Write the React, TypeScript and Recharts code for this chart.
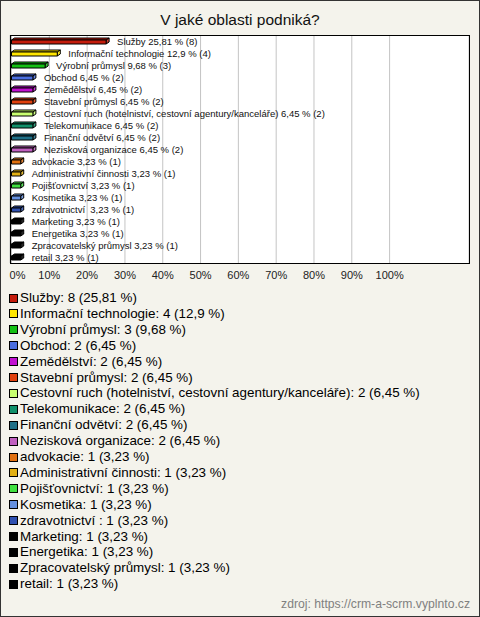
import { BarChart, Bar, XAxis, YAxis, CartesianGrid, LabelList } from "recharts";

const categories = [
  "Služby",
  "Informační technologie",
  "Výrobní průmysl",
  "Obchod",
  "Zemědělství",
  "Stavební průmysl",
  "Cestovní ruch (hotelniství, cestovní agentury/kanceláře)",
  "Telekomunikace",
  "Finanční odvětví",
  "Nezisková organizace",
  "advokacie",
  "Administrativní činnosti",
  "Pojišťovnictví",
  "Kosmetika",
  "zdravotnictví ",
  "Marketing",
  "Energetika",
  "Zpracovatelský průmysl",
  "retail",
];

const counts = [8, 4, 3, 2, 2, 2, 2, 2, 2, 2, 1, 1, 1, 1, 1, 1, 1, 1, 1];

const percents = [
  25.81, 12.9, 9.68, 6.45, 6.45, 6.45, 6.45, 6.45, 6.45, 6.45, 3.23, 3.23,
  3.23, 3.23, 3.23, 3.23, 3.23, 3.23, 3.23,
];

const colors = [
  "#c41c0c",
  "#ffe600",
  "#14c014",
  "#4a6ee0",
  "#c010d0",
  "#e0400e",
  "#c8ff70",
  "#10906a",
  "#1f7088",
  "#c060c0",
  "#e07010",
  "#e2b012",
  "#40e040",
  "#6490e0",
  "#2f50b0",
  "#000000",
  "#000000",
  "#000000",
  "#000000",
];

const xTicks = [0, 10, 20, 30, 40, 50, 60, 70, 80, 90, 100];

const fmt = (v: number) => String(v).replace(".", ",");

const data = categories.map((name, i) => ({
  name,
  pct: percents[i],
  label: `${name} ${fmt(percents[i])} % (${counts[i]})`,
}));

const FONT = "'Liberation Sans', Arial, sans-serif";

function Bar3D(props: any) {
  const { x, y, width, height, index } = props;
  const fill = colors[index];
  const dx = 3;
  const dy = 2;
  const w = Math.max(width - dx, 1);
  const top = y;
  const front = y + dy;
  const bottom = y + height;
  return (
    <g stroke="#000" strokeWidth={1} strokeLinejoin="round">
      <polygon
        points={`${x},${front} ${x + dx},${top} ${x + w + dx},${top} ${x + w},${front}`}
        fill={fill}
      />
      <polygon
        points={`${x + w},${front} ${x + w + dx},${top} ${x + w + dx},${bottom - dy} ${x + w},${bottom}`}
        fill={fill}
        fillOpacity={0.85}
      />
      <rect x={x} y={front} width={w} height={bottom - front} fill={fill} />
    </g>
  );
}

function XTick(props: any) {
  const { x, y, payload } = props;
  const shift = payload.value === 0 ? 6 : 0;
  return (
    <text
      x={x + shift}
      y={y + 4}
      textAnchor="middle"
      dominantBaseline="central"
      fontSize={11}
      fontFamily={FONT}
      fill="#222"
    >
      {payload.value}%
    </text>
  );
}

export default function App() {
  return (
    <div
      style={{
        position: "relative",
        width: 480,
        height: 617,
        background: "#f4f3ec",
        fontFamily: FONT,
        overflow: "hidden",
      }}
    >
      <style>{`body{margin:0}`}</style>
      <div
        style={{
          position: "absolute",
          top: 10,
          left: 0,
          width: 480,
          textAlign: "center",
          fontSize: 15.5,
          lineHeight: "20px",
          color: "#111",
        }}
      >
        V jaké oblasti podniká?
      </div>
      <div style={{ position: "absolute", left: 0, top: 0 }}>
        <BarChart
          width={480}
          height={617}
          data={data}
          layout="vertical"
          margin={{ top: 35, right: 11, left: 10, bottom: 324 }}
          barCategoryGap={0}
        >
          <CartesianGrid horizontal={false} stroke="#c4c4c4" fill="#fff" />
          <XAxis
            type="number"
            domain={[-0.4, 121]}
            allowDataOverflow
            ticks={xTicks}
            axisLine={false}
            tickLine={false}
            height={30}
            tick={<XTick />}
            interval={0}
          />
          <YAxis type="category" dataKey="name" hide width={0} />
          <Bar
            dataKey="pct"
            barSize={6}
            shape={<Bar3D />}
            isAnimationActive={false}
          >
            <LabelList
              dataKey="label"
              content={(p: any) => (
                <text
                  x={p.x + p.width + 8}
                  y={p.y + p.height / 2}
                  dominantBaseline="central"
                  fontSize={9.5}
                  fontFamily={FONT}
                  fill="#111"
                  style={{ whiteSpace: "pre" }}
                >
                  {p.value}
                </text>
              )}
            />
          </Bar>
        </BarChart>
      </div>
      <div
        style={{
          position: "absolute",
          left: 10,
          top: 35,
          width: 460,
          height: 229,
          boxSizing: "border-box",
          border: "1px solid #000",
          pointerEvents: "none",
        }}
      />
      {categories.map((name, i) => (
        <div
          key={name}
          style={{
            position: "absolute",
            left: 9,
            top: 290 + i * 15.9,
            height: 16,
            lineHeight: "16px",
            fontSize: 13.4,
            color: "#000",
            whiteSpace: "pre",
            display: "flex",
            alignItems: "center",
          }}
        >
          <span
            style={{
              display: "inline-block",
              width: 9,
              height: 9,
              boxSizing: "border-box",
              border: "1px solid #000",
              background: colors[i],
              marginRight: 2,
            }}
          />
          {`${name}: ${counts[i]} (${fmt(percents[i])} %)`}
        </div>
      ))}
      <div
        style={{
          position: "absolute",
          right: 10,
          top: 596,
          fontSize: 12.2,
          lineHeight: "16px",
          color: "#808080",
        }}
      >
        zdroj: https://crm-a-scrm.vyplnto.cz
      </div>
      <div
        style={{
          position: "absolute",
          inset: 0,
          border: "1px solid #333",
          pointerEvents: "none",
        }}
      />
    </div>
  );
}
